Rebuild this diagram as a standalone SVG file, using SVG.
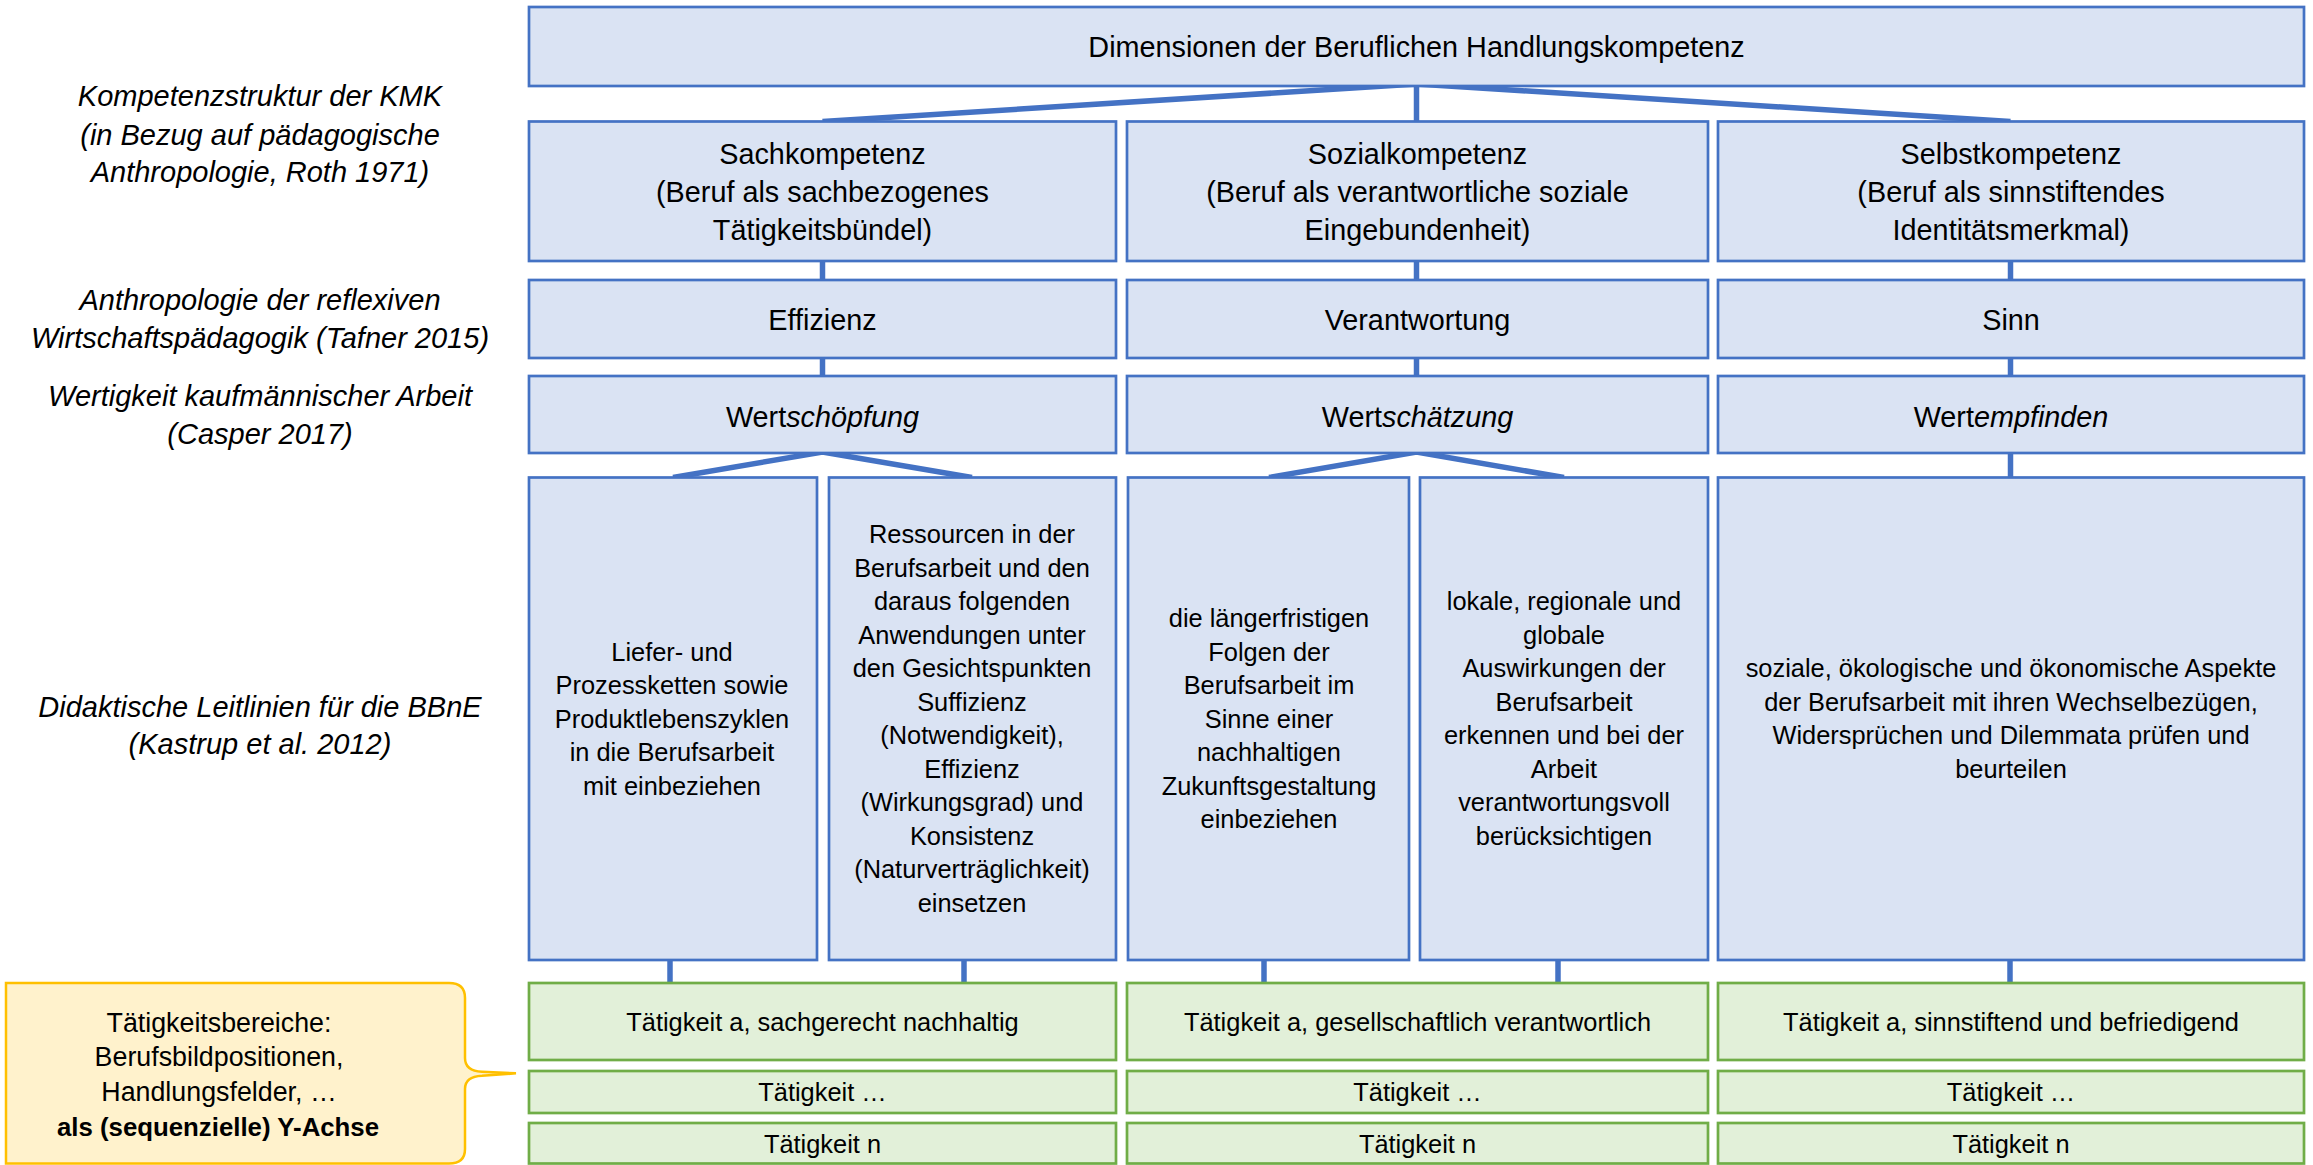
<svg xmlns="http://www.w3.org/2000/svg" width="2313" height="1165" viewBox="0 0 2313 1165">
<style>
.b{fill:#DAE3F3;stroke:#4472C4;stroke-width:2.7}
.g{fill:#E2F0D9;stroke:#70AD47;stroke-width:2.7}
.c{fill:none;stroke:#4472C4;stroke-width:5.5;stroke-linejoin:miter}
text{font-family:"Liberation Sans",Arial,sans-serif;fill:#000;text-anchor:middle}
.t1{font-size:28.8px}
.t2{font-size:25.4px}
.lb{font-size:29px;font-style:italic}
.co{font-size:26.8px}
</style>
<rect width="2313" height="1165" fill="#fff"/>

<g id="labels">
<text class="lb" x="260" y="106">Kompetenzstruktur der KMK</text>
<text class="lb" x="260" y="144.5">(in Bezug auf pädagogische</text>
<text class="lb" x="260" y="182">Anthropologie, Roth 1971)</text>
<text class="lb" x="260" y="310">Anthropologie der reflexiven</text>
<text class="lb" x="260" y="348.3">Wirtschaftspädagogik (Tafner 2015)</text>
<text class="lb" x="260" y="405.5">Wertigkeit kaufmännischer Arbeit</text>
<text class="lb" x="260" y="443.5">(Casper 2017)</text>
<text class="lb" x="260" y="717.3">Didaktische Leitlinien für die BBnE</text>
<text class="lb" x="260" y="754">(Kastrup et al. 2012)</text>
</g>

<g id="connectors">
<line class="c" x1="1416.5" y1="84" x2="822.5" y2="121.5"/>
<line class="c" x1="1416.5" y1="84" x2="1416.5" y2="121.5"/>
<line class="c" x1="1416.5" y1="84" x2="2010.5" y2="121.5"/>
<line class="c" x1="822.5" y1="261" x2="822.5" y2="280"/>
<line class="c" x1="1416.5" y1="261" x2="1416.5" y2="280"/>
<line class="c" x1="2010.5" y1="261" x2="2010.5" y2="280"/>
<line class="c" x1="822.5" y1="358" x2="822.5" y2="376"/>
<line class="c" x1="1416.5" y1="358" x2="1416.5" y2="376"/>
<line class="c" x1="2010.5" y1="358" x2="2010.5" y2="376"/>
<polyline class="c" points="673,477.5 822.5,452 972,477.5"/>
<polyline class="c" points="1269,477.5 1416.5,452 1564,477.5"/>
<line class="c" x1="2010.5" y1="453" x2="2010.5" y2="477.5"/>
<line class="c" x1="670" y1="960" x2="670" y2="983"/>
<line class="c" x1="964" y1="960" x2="964" y2="983"/>
<line class="c" x1="1264" y1="960" x2="1264" y2="983"/>
<line class="c" x1="1558" y1="960" x2="1558" y2="983"/>
<line class="c" x1="2010" y1="960" x2="2010" y2="983"/>
</g>

<g id="n-top">
<rect class="b" x="529" y="7" width="1775" height="79"/>
<text class="t1" x="1416.5" y="57">Dimensionen der Beruflichen Handlungskompetenz</text>
</g>

<g id="n-sach">
<rect class="b" x="529" y="121.5" width="587" height="139.5"/>
<text class="t1" x="822.5" y="163.5">Sachkompetenz</text>
<text class="t1" x="822.5" y="201.8">(Beruf als sachbezogenes</text>
<text class="t1" x="822.5" y="240">Tätigkeitsbündel)</text>
</g>
<g id="n-sozial">
<rect class="b" x="1127" y="121.5" width="581" height="139.5"/>
<text class="t1" x="1417.5" y="163.5">Sozialkompetenz</text>
<text class="t1" x="1417.5" y="201.8">(Beruf als verantwortliche soziale</text>
<text class="t1" x="1417.5" y="240">Eingebundenheit)</text>
</g>
<g id="n-selbst">
<rect class="b" x="1718" y="121.5" width="586" height="139.5"/>
<text class="t1" x="2011" y="163.5">Selbstkompetenz</text>
<text class="t1" x="2011" y="201.8">(Beruf als sinnstiftendes</text>
<text class="t1" x="2011" y="240">Identitätsmerkmal)</text>
</g>

<g id="n-effizienz">
<rect class="b" x="529" y="280" width="587" height="78"/>
<text class="t1" x="822.5" y="330">Effizienz</text>
</g>
<g id="n-verantwortung">
<rect class="b" x="1127" y="280" width="581" height="78"/>
<text class="t1" x="1417.5" y="330">Verantwortung</text>
</g>
<g id="n-sinn">
<rect class="b" x="1718" y="280" width="586" height="78"/>
<text class="t1" x="2011" y="330">Sinn</text>
</g>

<g id="n-wertschoepfung">
<rect class="b" x="529" y="376" width="587" height="77"/>
<text class="t1" x="822.5" y="426.5">Wert<tspan font-style="italic">schöpfung</tspan></text>
</g>
<g id="n-wertschaetzung">
<rect class="b" x="1127" y="376" width="581" height="77"/>
<text class="t1" x="1417.5" y="426.5">Wert<tspan font-style="italic">schätzung</tspan></text>
</g>
<g id="n-wertempfinden">
<rect class="b" x="1718" y="376" width="586" height="77"/>
<text class="t1" x="2011" y="426.5">Wert<tspan font-style="italic">empfinden</tspan></text>
</g>

<g id="n-liefer">
<rect class="b" x="529" y="477.5" width="288" height="482.5"/>
<text class="t2" x="672" y="660.5">Liefer- und</text>
<text class="t2" x="672" y="694">Prozessketten sowie</text>
<text class="t2" x="672" y="727.5">Produktlebenszyklen</text>
<text class="t2" x="672" y="761">in die Berufsarbeit</text>
<text class="t2" x="672" y="794.5">mit einbeziehen</text>
</g>
<g id="n-ressourcen">
<rect class="b" x="829" y="477.5" width="287" height="482.5"/>
<text class="t2" x="972" y="543.3">Ressourcen in der</text>
<text class="t2" x="972" y="576.8">Berufsarbeit und den</text>
<text class="t2" x="972" y="610.3">daraus folgenden</text>
<text class="t2" x="972" y="643.8">Anwendungen unter</text>
<text class="t2" x="972" y="677.3">den Gesichtspunkten</text>
<text class="t2" x="972" y="710.8">Suffizienz</text>
<text class="t2" x="972" y="744.3">(Notwendigkeit),</text>
<text class="t2" x="972" y="777.8">Effizienz</text>
<text class="t2" x="972" y="811.3">(Wirkungsgrad) und</text>
<text class="t2" x="972" y="844.8">Konsistenz</text>
<text class="t2" x="972" y="878.3">(Naturverträglichkeit)</text>
<text class="t2" x="972" y="911.8">einsetzen</text>
</g>
<g id="n-folgen">
<rect class="b" x="1128" y="477.5" width="281" height="482.5"/>
<text class="t2" x="1269" y="627">die längerfristigen</text>
<text class="t2" x="1269" y="660.5">Folgen der</text>
<text class="t2" x="1269" y="694">Berufsarbeit im</text>
<text class="t2" x="1269" y="727.5">Sinne einer</text>
<text class="t2" x="1269" y="761">nachhaltigen</text>
<text class="t2" x="1269" y="794.5">Zukunftsgestaltung</text>
<text class="t2" x="1269" y="828">einbeziehen</text>
</g>
<g id="n-lokale">
<rect class="b" x="1420" y="477.5" width="288" height="482.5"/>
<text class="t2" x="1564" y="610.3">lokale, regionale und</text>
<text class="t2" x="1564" y="643.8">globale</text>
<text class="t2" x="1564" y="677.3">Auswirkungen der</text>
<text class="t2" x="1564" y="710.8">Berufsarbeit</text>
<text class="t2" x="1564" y="744.3">erkennen und bei der</text>
<text class="t2" x="1564" y="777.8">Arbeit</text>
<text class="t2" x="1564" y="811.3">verantwortungsvoll</text>
<text class="t2" x="1564" y="844.8">berücksichtigen</text>
</g>
<g id="n-soziale">
<rect class="b" x="1718" y="477.5" width="586" height="482.5"/>
<text class="t2" x="2011" y="677.3">soziale, ökologische und ökonomische Aspekte</text>
<text class="t2" x="2011" y="710.8">der Berufsarbeit mit ihren Wechselbezügen,</text>
<text class="t2" x="2011" y="744.3">Widersprüchen und Dilemmata prüfen und</text>
<text class="t2" x="2011" y="777.8">beurteilen</text>
</g>

<g id="n-callout">
<path d="M6,983 H449 Q465,983 465,998 V1058 Q465,1071 482,1071.8 L516,1073.3 L482,1075.8 Q465,1076.5 465,1089 V1149 Q465,1163.5 449,1163.5 H6 Z" fill="#FFF2CC" stroke="#FFC000" stroke-width="2.5"/>
<text class="co" x="219" y="1031.7">Tätigkeitsbereiche:</text>
<text class="co" x="219" y="1066.4">Berufsbildpositionen,</text>
<text class="co" x="219" y="1101.1">Handlungsfelder, …</text>
<text x="218" y="1135.8" font-size="25.8px" font-weight="bold">als (sequenzielle) Y-Achse</text>
</g>

<g id="n-ta-sach">
<rect class="g" x="529" y="983" width="587" height="77"/>
<text class="t2" x="822.5" y="1030.5">Tätigkeit a, sachgerecht nachhaltig</text>
</g>
<g id="n-ta-sozial">
<rect class="g" x="1127" y="983" width="581" height="77"/>
<text class="t2" x="1417.5" y="1030.5">Tätigkeit a, gesellschaftlich verantwortlich</text>
</g>
<g id="n-ta-selbst">
<rect class="g" x="1718" y="983" width="586" height="77"/>
<text class="t2" x="2011" y="1030.5">Tätigkeit a, sinnstiftend und befriedigend</text>
</g>
<g id="n-tx-sach">
<rect class="g" x="529" y="1071" width="587" height="42"/>
<text class="t2" x="822.5" y="1101">Tätigkeit …</text>
</g>
<g id="n-tx-sozial">
<rect class="g" x="1127" y="1071" width="581" height="42"/>
<text class="t2" x="1417.5" y="1101">Tätigkeit …</text>
</g>
<g id="n-tx-selbst">
<rect class="g" x="1718" y="1071" width="586" height="42"/>
<text class="t2" x="2011" y="1101">Tätigkeit …</text>
</g>
<g id="n-tn-sach">
<rect class="g" x="529" y="1123" width="587" height="40.5"/>
<text class="t2" x="822.5" y="1152.5">Tätigkeit n</text>
</g>
<g id="n-tn-sozial">
<rect class="g" x="1127" y="1123" width="581" height="40.5"/>
<text class="t2" x="1417.5" y="1152.5">Tätigkeit n</text>
</g>
<g id="n-tn-selbst">
<rect class="g" x="1718" y="1123" width="586" height="40.5"/>
<text class="t2" x="2011" y="1152.5">Tätigkeit n</text>
</g>
</svg>
